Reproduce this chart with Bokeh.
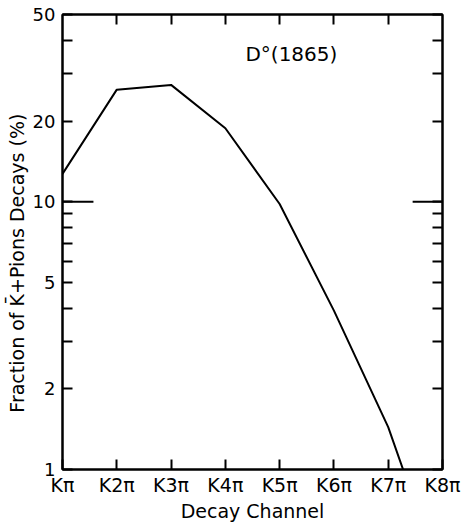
from bokeh.plotting import figure
from bokeh.models import Range1d, FixedTicker, LinearAxis, LogAxis, Label, CustomLabelingPolicy
from bokeh.embed import file_html
from bokeh.resources import INLINE

channels = ["Kπ", "K2π", "K3π", "K4π", "K5π", "K6π", "K7π", "K8π"]
fraction = [12.7, 26.2, 27.3, 18.8, 9.8, 3.92, 1.44, 0.38]
y_major = [1, 2, 5, 10, 20, 50]
y_minor = [3, 4, 6, 7, 8, 9, 30, 40]

xpos = list(range(1, len(channels) + 1))
FONT = "DejaVu Sans"

p = figure(width=468, height=525, output_backend="svg", toolbar_location=None,
           y_axis_type="log", x_range=Range1d(1, 8), y_range=Range1d(1, 50),
           min_border_left=62, min_border_right=26, min_border_top=14, min_border_bottom=56,
           x_axis_location=None, y_axis_location=None)
p.grid.visible = False
p.outline_line_color = "black"
p.outline_line_width = 2
p.background_fill_color = "white"
p.border_fill_color = "white"

hide_all = CustomLabelingPolicy(code="for (const i of Array.from(indices)) indices.unset(i); return indices;")

def style(ax, labels=True):
    ax.axis_line_width = 2
    ax.axis_line_color = "black"
    ax.major_tick_in = 10
    ax.major_tick_out = 0
    ax.minor_tick_in = 10
    ax.minor_tick_out = 0
    ax.major_tick_line_width = 2
    ax.minor_tick_line_width = 2
    ax.major_label_text_font = FONT
    ax.major_label_text_font_size = "19px"
    ax.major_label_text_color = "black"
    ax.axis_label_text_font = FONT
    ax.axis_label_text_font_size = "19px"
    ax.axis_label_text_font_style = "normal"
    ax.axis_label_text_color = "black"
    if not labels:
        ax.major_label_policy = hide_all
        ax.major_label_text_font_size = "1px"
        ax.major_label_standoff = 0
        ax.axis_label_standoff = 0

xb = LinearAxis(ticker=FixedTicker(ticks=xpos),
                major_label_overrides={x: c for x, c in zip(xpos, channels)},
                axis_label="Decay Channel")
style(xb)
xb.major_label_standoff = 4
xb.axis_label_standoff = 1
p.add_layout(xb, "below")

xt = LinearAxis(ticker=FixedTicker(ticks=xpos[1:-1]))
style(xt, labels=False)
p.add_layout(xt, "above")

yl = LogAxis(ticker=FixedTicker(ticks=y_major, minor_ticks=y_minor),
             axis_label="Fraction of K\u0304+Pions Decays (%)" + "\u00a0" * 7)
style(yl)
yl.major_label_text_font_size = "18px"
yl.major_label_standoff = 7
yl.axis_label_standoff = 2
yl.major_label_overrides = {v: str(v) for v in y_major}
p.add_layout(yl, "left")

yr = LogAxis(ticker=FixedTicker(ticks=y_major, minor_ticks=y_minor))
style(yr, labels=False)
p.add_layout(yr, "right")

# longer tick marks at 10 on both sides
p.segment(x0=[1, 7.45], y0=[10, 10], x1=[1.57, 8], y1=[10, 10],
          line_color="black", line_width=2)

p.line(xpos, fraction, line_color="black", line_width=2)

p.add_layout(Label(x=4.37, y=35.5, text="D°(1865)", text_font=FONT, text_font_size="20px",
                   text_color="black", text_baseline="middle"))

open("out.html", "w").write(file_html(p, INLINE))
